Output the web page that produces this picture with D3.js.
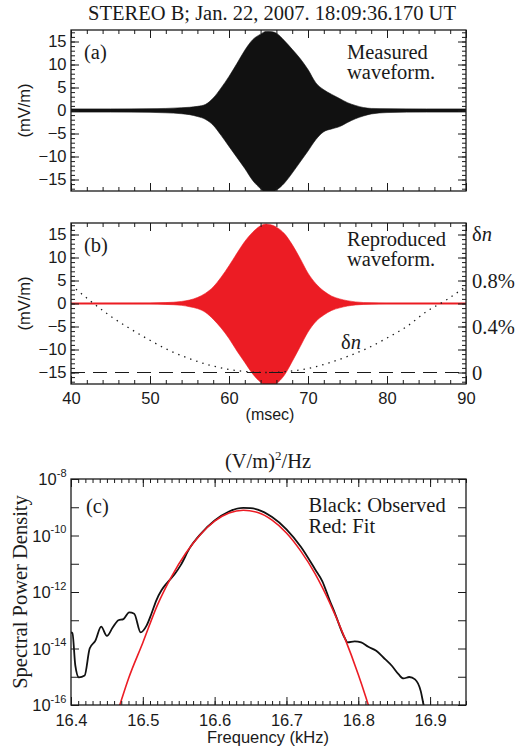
<!DOCTYPE html>
<html><head><meta charset="utf-8">
<script src="https://cdn.jsdelivr.net/npm/d3@7"></script>
<style>
body{margin:0;background:#fff;}
svg{display:block;}
</style></head><body>
<svg id="chart" width="529" height="748"></svg>
<script>
// ---------------- DATA ----------------
const titleText = "STEREO B; Jan. 22, 2007. 18:09:36.170 UT";

// Panel (a): measured waveform envelope (mV/m) vs time (msec)
const measuredTime  = [40,45,50,52,54,55,56,57,58,59,60,61,62,63,64,64.7,65.5,66,67,68,69,70,71,72,73,74,75,76,77,78,80,85,90];
const measuredUpper = [0.35,0.35,0.4,0.45,0.6,0.7,0.9,1.3,2.7,4.9,7.4,10.2,13.1,15.4,16.6,17.2,17.1,16.8,15.2,13.3,11.3,8.9,6.0,4.5,3.5,2.6,1.7,1.1,0.65,0.45,0.4,0.35,0.35];
const measuredLower = [-0.35,-0.35,-0.4,-0.5,-0.7,-0.9,-1.3,-1.9,-3.2,-5.4,-7.8,-10.2,-12.6,-15.2,-17.0,-17.9,-17.7,-17.3,-15.8,-13.6,-11.2,-8.8,-6.3,-4.6,-4.0,-3.5,-2.6,-1.8,-1.2,-0.75,-0.45,-0.35,-0.35];

// Panel (b): reproduced waveform envelope (mV/m)
const reproTime  = [40,50,52,54,55,56,57,58,59,60,61,62,63,64,64.7,65.5,66,67,68,69,70,71,72,73,74,75,76,78,80,90];
const reproUpper = [0.1,0.12,0.2,0.45,0.75,1.3,2.2,3.6,5.7,8.2,10.9,13.5,15.5,16.9,17.3,17.0,16.6,15.2,12.8,9.8,6.6,4.3,2.7,1.6,1.0,0.6,0.35,0.15,0.1,0.1];
const reproLower = [-0.1,-0.12,-0.2,-0.4,-0.7,-1.1,-1.9,-3.4,-5.3,-7.6,-10.3,-12.8,-15.3,-17.1,-17.8,-17.8,-17.4,-15.6,-12.6,-9.4,-6.2,-3.9,-2.5,-1.5,-0.95,-0.55,-0.32,-0.14,-0.1,-0.1];

// Panel (b): density perturbation delta-n (%)
const dnTime    = [40,42.5,45,47.5,50,52.5,55,57.5,60,62.5,65,67.5,70,72.5,75,77.5,80,82.5,85,87.5,90];
const dnPercent = [0.76,0.62,0.49,0.38,0.28,0.19,0.12,0.065,0.027,0.006,0.0,0.01,0.035,0.08,0.14,0.21,0.3,0.4,0.53,0.63,0.75];
const dnTickValues = [0, 0.4, 0.8];
const dnTickLabels = ["0", "0.4%", "0.8%"];

// Panel (c): spectral power density, (V/m)^2/Hz vs frequency (kHz)
const obsFreq = [16.400,16.402,16.406,16.411,16.419,16.426,16.434,16.442,16.450,16.458,16.466,16.473,16.481,16.488,16.497,16.505,16.512,16.519,16.526,16.533,16.545,16.553,16.565,16.580,16.600,16.620,16.640,16.650,16.660,16.680,16.700,16.720,16.740,16.750,16.760,16.767,16.781,16.785,16.795,16.804,16.814,16.825,16.835,16.847,16.856,16.863,16.871,16.879,16.887,16.891,16.895];
const obsPSD  = [3.7e-14,3.5e-14,2.5e-15,9.5e-16,1.1e-15,1.0e-14,1.9e-14,5.9e-14,2.8e-14,5.5e-14,1.0e-13,1.1e-13,1.9e-13,1.7e-13,3.7e-14,6.3e-14,1.7e-13,5.2e-13,1.15e-12,2.0e-12,4.5e-12,9.1e-12,3.5e-11,1.1e-10,3.4e-10,7.1e-10,9.5e-10,9.3e-10,8.3e-10,4.5e-10,1.66e-10,4.0e-11,6.3e-12,2.4e-12,5.2e-13,1.9e-13,2.4e-14,1.66e-14,1.8e-14,1.66e-14,1.15e-14,8.3e-15,4.8e-15,2.4e-15,1.23e-15,8.7e-16,9.8e-16,8.1e-16,3.1e-16,1.0e-16,4e-17];
const fitFreq = [16.460,16.470,16.480,16.500,16.520,16.540,16.560,16.580,16.600,16.620,16.640,16.660,16.680,16.700,16.720,16.740,16.760,16.780,16.800,16.810,16.820];
const fitPSD  = [2.3e-17,1.45e-16,8.5e-16,1.6e-14,3.3e-13,3.5e-12,2.4e-11,1.07e-10,3.2e-10,6.2e-10,7.8e-10,6.5e-10,3.5e-10,1.23e-10,2.8e-11,4.4e-12,4.3e-13,2.8e-14,1.2e-15,2.1e-16,3.3e-17];

const timeMajor = [40,50,60,70,80,90];
const fieldMajor = [-15,-10,-5,0,5,10,15];
const freqMajor = [16.4,16.5,16.6,16.7,16.8,16.9];
const psdLabelExponents = [-16,-14,-12,-10,-8];

// ---------------- DRAWING ----------------
const SANS = "'Liberation Sans', Arial, Helvetica, sans-serif";
const SERIF = "'Liberation Serif', 'Times New Roman', Times, serif";
const INK = "#1a1a1a";
const RED = "#ec1c24";

const svg = d3.select("#chart");

const xT = d3.scaleLinear().domain([40, 90]).range([71, 466]);
const yA = d3.scaleLinear().domain([-17.5, 17.5]).range([191, 30]);
const yB = d3.scaleLinear().domain([-17.5, 17.5]).range([384, 223]);
const yDn = d3.scaleLinear().domain([-0.1, 1.3]).range([384, 223]);
const xF = d3.scaleLinear().domain([16.4, 16.95]).range([71, 466]);
const yP = d3.scaleLog().domain([1e-16, 1e-8]).range([705, 479]);

const defs = svg.append("defs");
function clip(id, x, y) {
  defs.append("clipPath").attr("id", id).append("rect")
    .attr("x", x.range()[0]).attr("y", y.range()[1])
    .attr("width", x.range()[1] - x.range()[0]).attr("height", y.range()[0] - y.range()[1]);
}
clip("clipA", xT, yA); clip("clipB", xT, yB); clip("clipC", xF, yP);

function addAxis(g, axis, tr) {
  const a = g.append("g").attr("transform", tr).call(axis);
  a.select(".domain").remove();
  a.attr("font-family", SANS).attr("font-size", 16.5).attr("color", INK);
  a.selectAll("line").attr("stroke-width", 1);
  return a;
}

function frame(x, y, o) {
  const g = svg.append("g");
  const [x0, x1] = x.range(); const [yb, yt] = y.range();
  addAxis(g, d3.axisBottom(x).tickValues(o.xMajor).tickSizeInner(-8).tickSizeOuter(0).tickPadding(o.xPad || 8).tickFormat(o.xFmt || (() => "")), `translate(0,${yb})`);
  addAxis(g, d3.axisTop(x).tickValues(o.xMajor).tickSizeInner(-8).tickSizeOuter(0).tickFormat(() => ""), `translate(0,${yt})`);
  if (o.xMinor) {
    addAxis(g, d3.axisBottom(x).tickValues(o.xMinor).tickSizeInner(-4).tickSizeOuter(0).tickFormat(() => ""), `translate(0,${yb})`);
    addAxis(g, d3.axisTop(x).tickValues(o.xMinor).tickSizeInner(-4).tickSizeOuter(0).tickFormat(() => ""), `translate(0,${yt})`);
  }
  addAxis(g, d3.axisLeft(y).tickValues(o.yMajor).tickSizeInner(-8).tickSizeOuter(0).tickPadding(4.5).tickFormat(o.yFmt || (() => "")), `translate(${x0},0)`);
  addAxis(g, d3.axisRight(y).tickValues(o.yMajor).tickSizeInner(-8).tickSizeOuter(0).tickFormat(() => ""), `translate(${x1},0)`);
  if (o.yMinor) {
    addAxis(g, d3.axisLeft(y).tickValues(o.yMinor).tickSizeInner(-4).tickSizeOuter(0).tickFormat(() => ""), `translate(${x0},0)`);
    addAxis(g, d3.axisRight(y).tickValues(o.yMinor).tickSizeInner(-4).tickSizeOuter(0).tickFormat(() => ""), `translate(${x1},0)`);
  }
  g.append("rect").attr("x", x0).attr("y", yt).attr("width", x1 - x0).attr("height", yb - yt)
    .attr("fill", "none").attr("stroke", INK).attr("stroke-width", 1.3);
  return g;
}

function text(x, y, s, font, size, anchor) {
  return svg.append("text").attr("x", x).attr("y", y).attr("font-family", font)
    .attr("font-size", size).attr("fill", INK).attr("text-anchor", anchor || "start").text(s);
}

const timeMinor = d3.range(40, 90.01, 2);
const fieldMinor = d3.range(-17, 17.01, 1);

// Title
text(272, 19.6, titleText, SERIF, 20.5, "middle");

// ---- Panel (a)
const envA = measuredTime.map((t, i) => ({t, hi: measuredUpper[i], lo: measuredLower[i]}));
svg.append("path").datum(envA).attr("clip-path", "url(#clipA)")
  .attr("fill", "#111").attr("stroke", "#111").attr("stroke-width", 0.6)
  .attr("d", d3.area().x(d => xT(d.t)).y0(d => yA(d.lo)).y1(d => yA(d.hi)).curve(d3.curveMonotoneX));
frame(xT, yA, {xMajor: timeMajor, xMinor: timeMinor, yMajor: fieldMajor, yMinor: fieldMinor, yFmt: d3.format("d")});
text(84, 58.5, "(a)", SERIF, 20.5);
text(347, 58.5, "Measured", SERIF, 20.5);
text(347, 78.5, "waveform.", SERIF, 20.5);
svg.append("text").attr("transform", "translate(30,110.5) rotate(-90)").attr("text-anchor", "middle")
  .attr("font-family", SANS).attr("font-size", 16.5).attr("fill", INK).text("(mV/m)");

// ---- Panel (b)
svg.append("line").attr("x1", xT(40)).attr("x2", xT(90)).attr("y1", yB(0)).attr("y2", yB(0))
  .attr("stroke", "#f07a7a").attr("stroke-width", 2);
const envB = reproTime.map((t, i) => ({t, hi: reproUpper[i], lo: reproLower[i]}));
svg.append("path").datum(envB).attr("clip-path", "url(#clipB)")
  .attr("fill", RED).attr("stroke", RED).attr("stroke-width", 0.6)
  .attr("d", d3.area().x(d => xT(d.t)).y0(d => yB(d.lo)).y1(d => yB(d.hi)).curve(d3.curveMonotoneX));
// zero delta-n reference (dashed)
svg.append("line").attr("x1", xT(40)).attr("x2", xT(90)).attr("y1", yDn(0)).attr("y2", yDn(0))
  .attr("stroke", INK).attr("stroke-width", 1.1).attr("stroke-dasharray", "14,8");
// delta-n profile (dotted)
svg.append("path").datum(dnTime.map((t, i) => ({t, v: dnPercent[i]}))).attr("clip-path", "url(#clipB)")
  .attr("fill", "none").attr("stroke", INK).attr("stroke-width", 1.3).attr("stroke-dasharray", "1.4,5")
  .attr("d", d3.line().x(d => xT(d.t)).y(d => yDn(d.v)).curve(d3.curveMonotoneX));
frame(xT, yB, {xMajor: timeMajor, xMinor: timeMinor, yMajor: fieldMajor, yMinor: fieldMinor, yFmt: d3.format("d"), xFmt: d3.format("d"), xPad: 8.5});
text(84, 252, "(b)", SERIF, 20.5);
text(347, 245.5, "Reproduced", SERIF, 20.5);
text(347, 265.5, "waveform.", SERIF, 20.5);
svg.append("text").attr("transform", "translate(30,303.5) rotate(-90)").attr("text-anchor", "middle")
  .attr("font-family", SANS).attr("font-size", 16.5).attr("fill", INK).text("(mV/m)");
// right delta-n axis labels
dnTickValues.forEach((v, i) => text(472, yDn(v) + 7, dnTickLabels[i], SERIF, 20.5));
const dnTop = text(472, yDn(1.2) + 6, "δ", SERIF, 20.5);
dnTop.append("tspan").attr("font-style", "italic").text("n");
const dnMid = text(341, 348.5, "δ", SERIF, 20.5);
dnMid.append("tspan").attr("font-style", "italic").text("n");
text(270, 419.5, "(msec)", SANS, 16, "middle");

// ---- Panel (c)
const t1 = text(268, 468, "(V/m)", SERIF, 20.5, "middle");
t1.append("tspan").attr("dy", -8).attr("font-size", 13).text("2");
t1.append("tspan").attr("dy", 8).text("/Hz");

svg.append("path").datum(obsFreq.map((f, i) => ({f, p: obsPSD[i]}))).attr("clip-path", "url(#clipC)")
  .attr("fill", "none").attr("stroke", "#111").attr("stroke-width", 1.8).attr("stroke-linejoin", "round")
  .attr("d", d3.line().x(d => xF(d.f)).y(d => yP(d.p)).curve(d3.curveMonotoneX));
svg.append("path").datum(fitFreq.map((f, i) => ({f, p: fitPSD[i]}))).attr("clip-path", "url(#clipC)")
  .attr("fill", "none").attr("stroke", RED).attr("stroke-width", 1.6)
  .attr("d", d3.line().x(d => xF(d.f)).y(d => yP(d.p)).curve(d3.curveMonotoneX));

const decades = d3.range(-16, -7).map(e => Math.pow(10, e));
const freqMinor = d3.range(0, 56).map(i => 16.4 + i * 0.01);
frame(xF, yP, {xMajor: freqMajor, xMinor: freqMinor, yMajor: decades, xFmt: d3.format(".1f"), xPad: 9});
psdLabelExponents.forEach(e => {
  const y = yP(Math.pow(10, e));
  const t = text(66.5, y + 6, "10", SANS, 16.5, "end");
  t.append("tspan").attr("dy", -8.5).attr("font-size", 11).text(String(e));
});
text(86, 512.5, "(c)", SERIF, 20.5);
text(308.5, 511.5, "Black: Observed", SERIF, 20.5);
text(308.5, 532.5, "Red: Fit", SERIF, 20.5);
svg.append("text").attr("transform", "translate(26.5,592) rotate(-90)").attr("text-anchor", "middle")
  .attr("font-family", SERIF).attr("font-size", 20.5).attr("fill", INK).text("Spectral Power Density");
text(268, 743, "Frequency (kHz)", SANS, 16.5, "middle");
</script>
</body></html>
